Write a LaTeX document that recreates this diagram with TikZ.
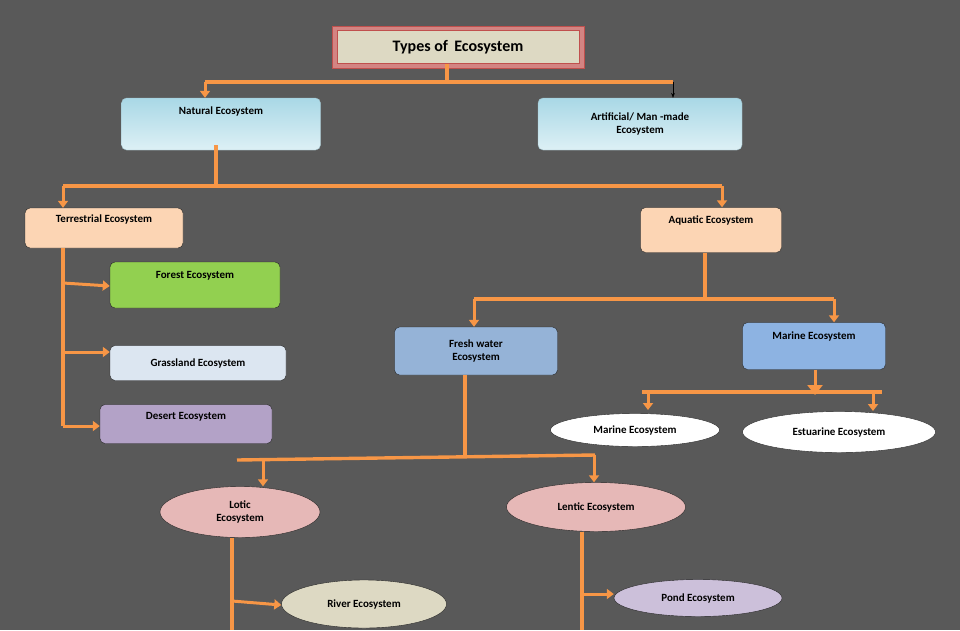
\documentclass[tikz,border=0pt]{standalone}
\usepackage{fontspec}
\setmainfont{Carlito}
\usetikzlibrary{arrows.meta,shapes.geometric}
\definecolor{bgray}{HTML}{595959}
\definecolor{lineor}{HTML}{F79646}
\definecolor{titlered}{HTML}{C0504D}
\definecolor{titlefill}{HTML}{DDD9C3}
\definecolor{peach}{HTML}{FCD5B4}
\definecolor{leafgreen}{HTML}{92D050}
\definecolor{paleblue}{HTML}{DCE6F1}
\definecolor{lilac}{HTML}{B3A2C7}
\definecolor{waterblue}{HTML}{95B3D7}
\definecolor{seablue}{HTML}{8DB3E2}
\definecolor{rosepink}{HTML}{E6B8B7}
\definecolor{palelilac}{HTML}{CCC0DA}
\definecolor{skytop}{HTML}{A9D8E6}
\definecolor{skybot}{HTML}{DDF0F5}
\tikzset{
  box/.style={rectangle,rounded corners=5pt,draw=black!85,thin,font=\bfseries\fontsize{11}{13}\selectfont,align=center,inner sep=2pt},
  oval/.style={ellipse,draw=black!85,thin,font=\bfseries\fontsize{11}{13}\selectfont,align=center,inner sep=0pt},
  sky/.style={box,top color=skytop,bottom color=skybot,draw=skytop!70!gray},
  link/.style={draw=lineor,line width=3.4pt},
  tip/.style={draw=lineor,line width=3pt,-{Triangle[width=10pt,length=7pt,fill=lineor]}}
}
\begin{document}
\begin{tikzpicture}[x=1pt,y=-1pt]
  \fill[bgray] (0,0) rectangle (960,630);
  \useasboundingbox (0,0) rectangle (960,630);

  % boxes
  \node[draw=titlered,fill=titlered!70,minimum width=252pt,minimum height=42pt] (titleo) at (458,47) {};
  \node[draw=titlered,fill=titlefill,thin,minimum width=242pt,minimum height=33pt,font=\bfseries\fontsize{16}{18}\selectfont] (title) at (458,47) {Types of\, Ecosystem};
  \node[sky,minimum width=199pt,minimum height=52pt] (natural) at (221,124) {Natural Ecosystem\\[14pt]\mbox{}};
  \node[sky,minimum width=204pt,minimum height=52pt] (artificial) at (640,124) {Artificial/ Man -made\\Ecosystem};
  \node[box,fill=peach,minimum width=158pt,minimum height=40pt] (terrestrial) at (104,228) {Terrestrial Ecosystem\\[6pt]\mbox{}};
  \node[box,fill=peach,minimum width=141pt,minimum height=45pt] (aquatic) at (711,230) {Aquatic Ecosystem\\[8pt]\mbox{}};
  \node[box,fill=leafgreen,minimum width=170pt,minimum height=46pt] (forest) at (195,285) {Forest Ecosystem\\[8pt]\mbox{}};
  \node[box,fill=paleblue,minimum width=176pt,minimum height=35pt] (grassland) at (198,363) {Grassland Ecosystem};
  \node[box,fill=lilac,minimum width=172pt,minimum height=39pt] (desert) at (186,424) {Desert Ecosystem\\[4pt]\mbox{}};
  \node[box,fill=waterblue,minimum width=163pt,minimum height=48pt] (fresh) at (476,351) {Fresh water\\Ecosystem};
  \node[box,fill=seablue,minimum width=143pt,minimum height=47pt] (marine) at (814,346) {Marine Ecosystem\\[8pt]\mbox{}};
  \node[oval,fill=white,minimum width=169pt,minimum height=33pt] (marinesub) at (635,430) {Marine Ecosystem};
  \node[oval,fill=white,minimum width=193pt,minimum height=41pt] (estuarine) at (839,432) {Estuarine Ecosystem};
  \node[oval,fill=rosepink,minimum width=160pt,minimum height=51pt] (lotic) at (240,512) {Lotic\\Ecosystem};
  \node[oval,fill=rosepink,minimum width=179pt,minimum height=49pt] (lentic) at (596,507) {Lentic Ecosystem};
  \node[oval,fill=titlefill,minimum width=165pt,minimum height=48pt] (river) at (364,604) {River Ecosystem};
  \node[oval,fill=palelilac,minimum width=168pt,minimum height=37pt] (pond) at (698,598) {Pond Ecosystem};

  % connectors
  \coordinate (lotictail) at (232,630);
  \coordinate (lentictail) at (582,630);
  \draw[link] (title.south -| 447,0) -- (447,82);
  \draw[link] (205,82) -- (673,82);
  \draw[tip] (205,82) -- (natural.north -| 205,0);
  \draw[-{Stealth[black]},thin,black] (673,82) -- (artificial.north -| 673,0);

  \draw[link] (216,145) -- (216,186);
  \draw[link] (63,186) -- (722,186);
  \draw[tip] (63,186) -- (terrestrial.north -| 63,0);
  \draw[tip] (722,186) -- (aquatic.north -| 722,0);

  \draw[link] (terrestrial.south -| 63,0) -- (63,426);
  \draw[tip] (63,283) -- (forest.west |- 0,286);
  \draw[tip] (63,352) -- (grassland.west |- 0,352);
  \draw[tip] (63,426) -- (desert.west |- 0,426);

  \draw[link] (aquatic.south -| 705,0) -- (705,299);
  \draw[link] (474,299) -- (834,299);
  \draw[tip] (474,299) -- (fresh.north -| 474,0);
  \draw[tip] (834,299) -- (marine.north -| 834,0);

  \draw[tip,-{Triangle[width=15pt,length=10pt,fill=lineor]}] (marine.south -| 815,0) -- (815,395);
  \draw[link] (642,392) -- (882,392);
  \draw[tip] (648,392) -- (648,410);
  \draw[tip] (873,392) -- (873,411);

  \draw[link] (fresh.south -| 465,0) -- (465,458);
  \draw[link] (237,460) -- (595,455);
  \draw[tip] (263,460) -- (lotic.north -| 263,0);
  \draw[tip] (594,455) -- (lentic.north -| 594,0);

  \draw[link] (lotic.south -| 232,0) -- (lotictail);
  \draw[tip] (232,601) -- (river.west |- 0,605);
  \draw[link] (lentic.south -| 582,0) -- (lentictail);
  \draw[tip] (582,594) -- (pond.west |- 0,594);
\end{tikzpicture}
\end{document}
